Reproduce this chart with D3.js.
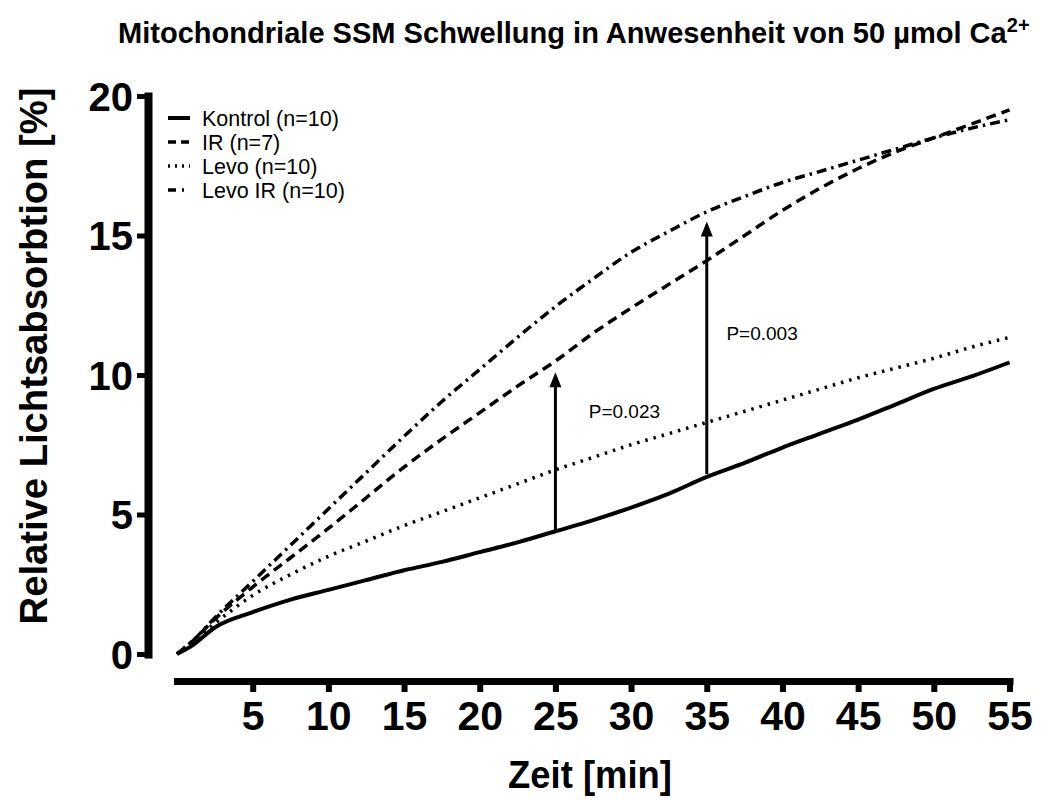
<!DOCTYPE html>
<html>
<head>
<meta charset="utf-8">
<script src="https://cdn.jsdelivr.net/npm/d3@7"></script>
<style>
  body { margin: 0; background: #fff; }
  svg { font-family: "Liberation Sans", Arial, Helvetica, sans-serif; }
  .axis path, .axis line { stroke: #000; }
  .axis text { font-weight: bold; fill: #000; }
</style>
</head>
<body>
<div id="chart"></div>
<script>
// time points [min]
const times = [0, 1, 2.5, 5, 7.5, 10, 12.5, 15, 17.5, 20, 22.5, 25, 27.5, 30, 32.5, 35, 37.5, 40, 42.5, 45, 47.5, 50, 52.5, 55];

// relative light absorption [%]
const kontrol = [0, 0.3, 0.95, 1.5, 1.95, 2.3, 2.65, 3.0, 3.3, 3.65, 4.0, 4.4, 4.8, 5.25, 5.75, 6.35, 6.85, 7.4, 7.9, 8.4, 8.95, 9.5, 9.95, 10.45];
const ir = [0, 0.45, 1.25, 2.4, 3.45, 4.5, 5.6, 6.7, 7.7, 8.65, 9.6, 10.5, 11.5, 12.4, 13.25, 14.1, 15.0, 15.9, 16.7, 17.4, 18.0, 18.5, 19.0, 19.5];
const levo = [0, 0.45, 1.1, 2.1, 2.85, 3.5, 4.05, 4.6, 5.1, 5.6, 6.1, 6.6, 7.05, 7.5, 7.9, 8.3, 8.7, 9.1, 9.5, 9.9, 10.25, 10.6, 11.0, 11.35];
const levoIr = [0, 0.45, 1.3, 2.6, 3.9, 5.2, 6.5, 7.8, 9.05, 10.2, 11.35, 12.45, 13.45, 14.4, 15.15, 15.85, 16.4, 16.9, 17.3, 17.7, 18.1, 18.5, 18.85, 19.15];

const seriesNames = ['Kontrol (n=10)', 'IR (n=7)', 'Levo (n=10)', 'Levo IR (n=10)'];
const seriesValues = [kontrol, ir, levo, levoIr];
const seriesDash = ['none', '10,6', '2.5,6', '10,5,2.5,5'];

const xTicks = [5, 10, 15, 20, 25, 30, 35, 40, 45, 50, 55];
const yTicks = [0, 5, 10, 15, 20];

// significance arrows: time, start value, tip value, label and where it sits
const arrows = [
  {t: 25, from: 4.45, to: 10.1, label: 'P=0.023', lt: 27.2, ly: 8.7},
  {t: 35, from: 6.45, to: 15.5, label: 'P=0.003', lt: 36.3, ly: 11.5}
];

const width = 1058;
const height = 800;

let svg = d3.select('#chart').append('svg')
  .attr('width', width)
  .attr('height', height);

let scaleX = d3.scaleLinear().domain([0, 55]).range([177, 1009.5]);
let scaleY = d3.scaleLinear().domain([0, 20]).range([654, 96]);

// squeeze a text element horizontally to a target width
let fit = (sel, x, y, w, rotate) => {
  let bw = sel.node().getBBox().width;
  let s = w / bw;
  if (rotate) sel.attr('transform', `translate(${x}, ${y}) rotate(-90) scale(${s}, 1)`);
  else sel.attr('transform', `translate(${x}, ${y}) scale(${s}, 1)`);
}

// title
let title = svg.append('text')
  .attr('x', 0).attr('y', 0)
  .style('font-size', '29px')
  .style('font-weight', 'bold')
title.append('tspan').text('Mitochondriale SSM Schwellung in Anwesenheit von 50 µmol Ca')
title.append('tspan').attr('dy', -11).style('font-size', '20px').text('2+')
fit(title, 118, 43, 912);

// axes
let xAxis = d3.axisBottom(scaleX).tickValues(xTicks).tickSize(11).tickSizeOuter(0).tickPadding(9);
let gx = svg.append('g')
  .classed('axis', true)
  .attr('transform', 'translate(0, 681)')
  .call(xAxis);
gx.select('.domain').attr('stroke-width', 7).attr('stroke-linecap', 'square');
gx.selectAll('.tick line').attr('stroke-width', 6);
gx.selectAll('.tick text').style('font-size', '41px').attr('dy', '0.71em');

let yAxis = d3.axisLeft(scaleY).tickValues(yTicks).tickSize(11).tickSizeOuter(0).tickPadding(4);
let gy = svg.append('g')
  .classed('axis', true)
  .attr('transform', 'translate(148, 0)')
  .call(yAxis);
gy.select('.domain').attr('stroke-width', 8).attr('stroke-linecap', 'square');
gy.selectAll('.tick line').attr('stroke-width', 5);
gy.selectAll('.tick text').style('font-size', '40px').attr('dy', '0.36em');

// axis titles
let xt = svg.append('text')
  .attr('text-anchor', 'middle')
  .style('font-size', '38px')
  .style('font-weight', 'bold')
  .text('Zeit [min]')
fit(xt, 590, 788, 164);

let yt = svg.append('text')
  .attr('text-anchor', 'middle')
  .style('font-size', '39px')
  .style('font-weight', 'bold')
  .text('Relative Lichtsabsorbtion [%]')
fit(yt, 47, 356, 537, true);

// curves
let line = d3.line()
  .x((d, i) => scaleX(times[i]))
  .y(d => scaleY(d))
  .curve(d3.curveMonotoneX);

svg.selectAll('path.series')
  .data(seriesValues)
  .enter().append('path')
  .classed('series', true)
  .attr('d', line)
  .attr('fill', 'none')
  .attr('stroke', '#000')
  .attr('stroke-width', (d, i) => i === 0 ? 4 : 3.5)
  .attr('stroke-dasharray', (d, i) => seriesDash[i]);

// arrows
let ag = svg.selectAll('g.arrow').data(arrows).enter().append('g').classed('arrow', true);
ag.append('line')
  .attr('x1', d => scaleX(d.t)).attr('x2', d => scaleX(d.t))
  .attr('y1', d => scaleY(d.from)).attr('y2', d => scaleY(d.to) + 12)
  .attr('stroke', '#000').attr('stroke-width', 3);
ag.append('path')
  .attr('d', d => {
    let x = scaleX(d.t), y = scaleY(d.to);
    return `M${x},${y} L${x - 6},${y + 15} L${x + 6},${y + 15} Z`;
  })
  .attr('fill', '#000');
ag.append('text')
  .attr('x', d => scaleX(d.lt))
  .attr('y', d => scaleY(d.ly))
  .attr('dy', '0.35em')
  .style('font-size', '19px')
  .text(d => d.label);

// legend
let legend = svg.append('g').attr('transform', 'translate(168, 118)');
let rows = legend.selectAll('g').data(seriesNames).enter().append('g')
  .attr('transform', (d, i) => `translate(0, ${i * 24})`);
rows.append('line')
  .attr('x1', 0).attr('x2', 22).attr('y1', 0).attr('y2', 0)
  .attr('stroke', '#000')
  .attr('stroke-width', (d, i) => i === 0 ? 4 : 3.5)
  .attr('stroke-dasharray', (d, i) => ['none', '8,5', '2,5', '8,6,2,6'][i]);
rows.append('text')
  .attr('x', 34).attr('y', 0).attr('dy', '0.36em')
  .style('font-size', '21.5px')
  .text(d => d);
</script>
</body>
</html>
